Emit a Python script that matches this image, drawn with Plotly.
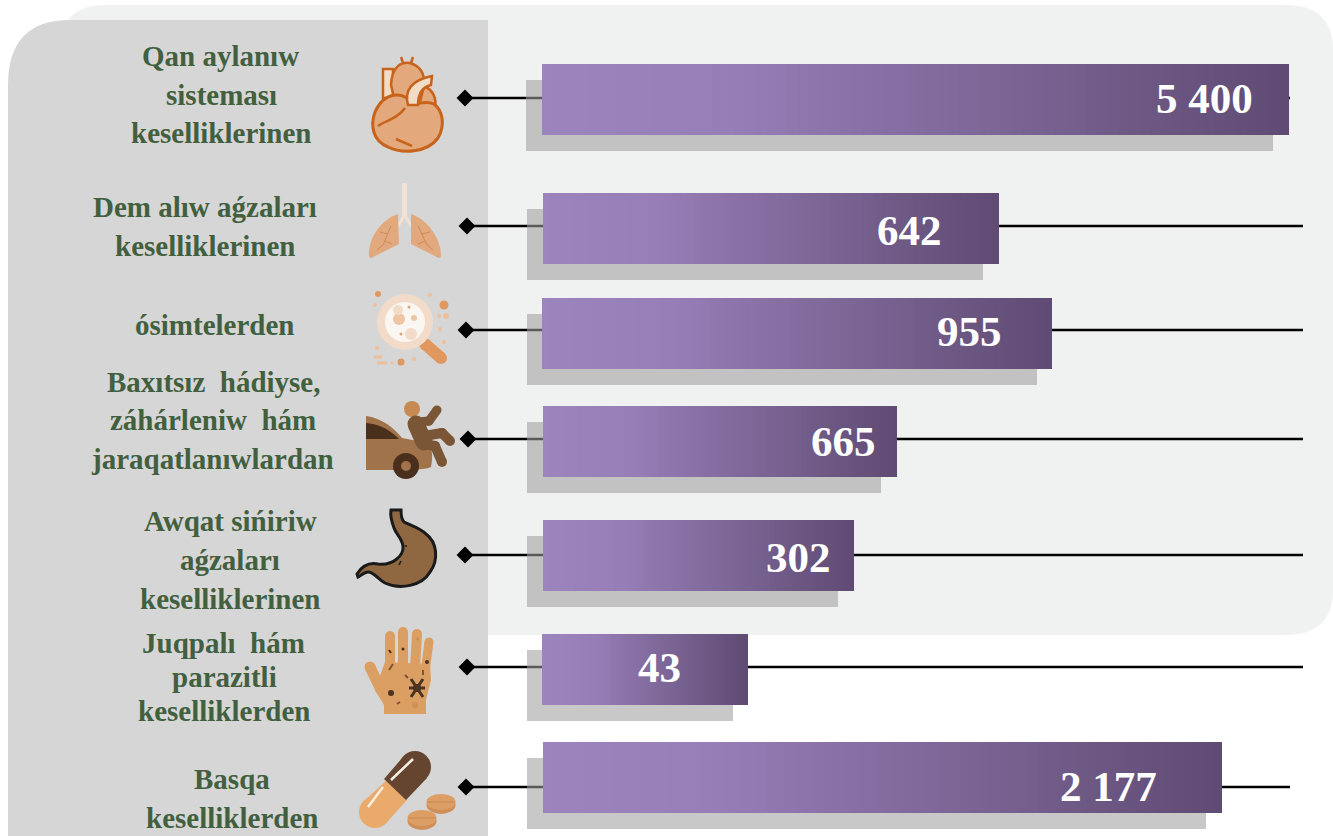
import plotly.graph_objects as go

# ---------- data ----------
categories = ["Qan aylanıw sisteması keselliklerinen", "Dem alıw aǵzaları keselliklerinen", "ósimtelerden",
              "Baxıtsız hádiyse, záhárleniw hám jaraqatlanıwlardan", "Awqat sińiriw aǵzaları keselliklerinen",
              "Juqpalı hám parazitli keselliklerden", "Basqa keselliklerden"]
value_labels = ["5 400", "642", "955", "665", "302", "43", "2 177"]
bar_lengths = [747, 456, 510, 354, 311, 206, 679]   # drawn lengths

# ---------- layout of the infographic ----------
W, H = 1333, 836
bar_starts = [542, 543, 542, 543, 543, 542, 543]
bar_centers = [99.5, 228, 333.5, 441.5, 555.5, 669.5, 777.5]
bar_height = 71
shadow_starts = [526, 527, 527, 527, 527, 527, 527]
shadow_dy = 16
line_y = [98, 226, 330, 439, 555, 667, 787]
diamond_x = [465, 467, 466, 468, 465, 467, 466]
line_end = [1290, 1303, 1303, 1303, 1303, 1303, 1290]
value_x = [1204, 909, 969, 843, 798, 659, 1108]
value_y = [98, 230, 331, 441, 557, 667, 786]
label_lines = [
    ("Qan aylanıw", 220, 56), ("sisteması", 221, 95), ("keselliklerinen", 221, 133),
    ("Dem alıw aǵzaları", 205, 207), ("keselliklerinen", 205, 246),
    ("ósimtelerden", 214, 325),
    ("Baxıtsız\u00a0 hádiyse,", 214, 382), ("záhárleniw\u00a0 hám", 213, 420), ("jaraqatlanıwlardan", 212, 459),
    ("Awqat sińiriw", 230, 521), ("aǵzaları", 230, 560), ("keselliklerinen", 230, 599),
    ("Juqpalı\u00a0 hám", 223, 643), ("parazitli", 224, 677), ("keselliklerden", 224, 711),
    ("Basqa", 232, 779), ("keselliklerden", 232, 818),
]

STOPS = [(0.0, (156, 132, 189)), (0.25, (151, 126, 183)), (1.0, (94, 75, 114))]


def grad(t):
    for (a, ca), (b, cb) in zip(STOPS, STOPS[1:]):
        if t <= b:
            f = (t - a) / (b - a)
            return "rgb(%d,%d,%d)" % tuple(round(x + (y - x) * f) for x, y in zip(ca, cb))
    return "rgb(94,75,114)"


shapes = []


def add_path(d, fill=None, line=None, lw=0):
    shapes.append(dict(type="path", path=d, fillcolor=fill or "rgba(0,0,0,0)", layer="above",
                       line=dict(color=line or "rgba(0,0,0,0)", width=lw)))


def poly(pts, fill=None, line=None, lw=0, close=True):
    d = "M " + " L ".join(f"{x},{y}" for x, y in pts) + (" Z" if close else "")
    add_path(d, fill, line, lw)


def circ(cx, cy, rx, fill, ry=None, line=None, lw=0):
    ry = rx if ry is None else ry
    shapes.append(dict(type="circle", x0=cx - rx, x1=cx + rx, y0=cy - ry, y1=cy + ry, fillcolor=fill, layer="above",
                       line=dict(color=line or "rgba(0,0,0,0)", width=lw)))


def seg(x1, y1, x2, y2, color, w):
    shapes.append(dict(type="line", x0=x1, x1=x2, y0=y1, y1=y2, layer="above", line=dict(color=color, width=w)))


def capsule(x1, y1, x2, y2, w, color):
    seg(x1, y1, x2, y2, color, w)
    circ(x1, y1, w / 2, color)
    circ(x2, y2, w / 2, color)


# panels (below the traces)
shapes.append(dict(type="path", layer="below", fillcolor="#f0f2f1", line=dict(width=0),
                   path="M 60,50 Q 60,5 105,5 L 1285,5 Q 1333,5 1333,50 L 1333,590 Q 1333,635 1285,635 L 60,635 Z"))
shapes.append(dict(type="path", layer="below", fillcolor="#d6d6d6", line=dict(width=0),
                   path="M 8,85 Q 8,20 70,20 L 488,20 L 488,836 L 8,836 Z"))
# leader lines
for i in range(len(line_y)):
    shapes.append(dict(type="line", layer="below", x0=diamond_x[i], x1=line_end[i], y0=line_y[i], y1=line_y[i],
                       line=dict(color="#000000", width=2.5)))

# --- heart ---
H_LINE = "#c8631c"
poly([(383, 69), (393, 69), (393, 98), (383, 98)], "#f3dcc6", H_LINE, 2.5)
add_path("M 391,85 C 392,65 402,62 410,63 C 420,66 424,72 424,82 L 412,102 L 395,102 Z", "#e3a87b", H_LINE, 2.5)
seg(403, 63, 401, 57, H_LINE, 2.5); seg(411, 63, 413, 57, H_LINE, 2.5)
add_path("M 424,86 C 433,90 437,98 435,110 L 418,110 Z", "#e3a87b", H_LINE, 2.5)
add_path("M 375,112 C 370,126 373,141 388,147 C 402,154 427,153 438,138 C 446,124 442,110 434,104 "
         "C 426,100 420,104 414,104 C 402,90 384,92 375,112 Z", "#e3a87b", H_LINE, 3)
add_path("M 408,105 C 404,90 412,80 432,76 L 431,85 C 422,87 418,93 418,105 Z", "#f3dcc6", H_LINE, 2.5)
add_path("M 378,126 C 386,120 396,120 405,108", None, H_LINE, 2.5)
seg(396, 139, 412, 146, H_LINE, 2.5)

# --- lungs ---
L_FILL, L_VEIN = "#e2a97f", "#d28a55"
seg(404.5, 183, 404.5, 218, "#f3e2d3", 5)
seg(404, 216, 398, 226, "#f3e2d3", 3); seg(405, 216, 411, 226, "#f3e2d3", 3)
add_path("M 398,214 C 384,218 368,236 369,256 C 370,259 372,258 375,256 L 399,244 Z", L_FILL)
add_path("M 411,214 C 425,218 441,236 441,256 C 440,259 438,258 435,256 L 411,244 Z", L_FILL)
for a in [(391, 226, 383, 245), (388, 234, 380, 232), (385, 241, 392, 244), (383, 245, 377, 250)]:
    seg(*a, L_VEIN, 1)
for a in [(418, 226, 427, 245), (421, 234, 430, 232), (425, 241, 418, 244), (427, 245, 433, 250)]:
    seg(*a, L_VEIN, 1)

# --- magnifier with cells ---
capsule(425, 344, 441, 358, 12, "#e0985f")
circ(405, 322, 28, "#f2dcc9")
circ(405, 322, 20, "#faf6f1")
circ(399, 319, 6, "#ecc6a5"); circ(398, 310, 5, "#f2dcc9"); circ(411, 334, 6, "#f2dcc9"); circ(414, 318, 3, "#ecc6a5")
circ(401, 334, 1.5, "#dca57a"); circ(409, 307, 1.5, "#dca57a")
for x, y, r, c in [(378, 294, 3, "#e0985f"), (375, 305, 2, "#edc09b"), (430, 295, 2, "#edc09b"),
                   (444, 305, 4.5, "#e0985f"), (439, 316, 2, "#edc09b"), (446, 316, 3, "#edc09b"), (440, 329, 2, "#edc09b"),
                   (444, 342, 2, "#edc09b"), (377, 348, 2, "#edc09b"), (401, 362, 3.5, "#e0985f"),
                   (392, 363, 1.5, "#edc09b"), (414, 359, 2, "#edc09b")]:
    circ(x, y, r, c)
capsule(375, 357, 381, 357, 3, "#edc09b"); capsule(378, 363, 386, 363, 3, "#edc09b")

# --- car accident ---
add_path("M 366,416 C 382,418 394,428 402,438 L 428,443 C 434,450 432,462 431,467 C 425,470 410,470 366,470 Z", "#a0734a")
add_path("M 366,423 C 382,424 392,432 399,439 L 366,439 Z", "#4a2f1c")
circ(406, 466, 13, "#4a2f1c"); circ(406, 466, 5, "#a0734a")
circ(412, 409, 8, "#c68a52")
C = "#7a5636"
capsule(416, 424, 424, 442, 17, C)
capsule(418, 422, 429, 421, 9, C); capsule(429, 421, 437, 410, 9, C)
capsule(424, 436, 442, 433, 10, C); capsule(442, 433, 450, 441, 10, C)
capsule(424, 444, 435, 446, 10, C); capsule(435, 446, 442, 462, 10, C)

# --- stomach ---
add_path("M 401,510 C 401,516 402,520 404,522 C 412,526 420,528 426,534 C 437,542 439,560 430,572 "
         "C 422,586 400,590 385,583 C 378,579 374,572 368,572 C 364,572 361,576 358,577 L 357,574 "
         "C 362,566 368,562 378,564 C 392,566 404,556 403,546 C 402,538 396,534 394,528 C 391,520 390,516 391,510 Z",
         "#8f6842", "#1a1a1a", 3)
seg(401, 561, 399, 565, "#1a1a1a", 1.5); circ(406, 546, 1, "#1a1a1a")

# --- hand ---
HF = "#dc9f63"; HD = "#4a3320"
capsule(390, 636, 390, 668, 10, HF)
capsule(403, 632, 403, 666, 10, HF)
capsule(417, 634, 415, 668, 10, HF)
capsule(429, 642, 425, 672, 9, HF)
capsule(370, 667, 381, 690, 11, HF)
poly([(385, 662), (430, 664), (431, 680), (426, 700), (426, 714), (384, 714), (384, 705), (375, 690)], HF)
circ(391, 693, 3, HD); circ(403, 649, 1.5, HD); circ(427, 662, 2, HD); circ(415, 705, 3, "#cf9058")
seg(389, 650, 391, 653, HD, 2); seg(389, 670, 393, 664, "#7a5636", 2); seg(397, 704, 400, 702, "#7a5636", 2)
seg(417, 640, 418, 638, "#bb8a55", 2); seg(423, 670, 423, 675, "#7a5636", 2); seg(405, 675, 408, 678, "#7a5636", 2)
seg(411, 679, 423, 697, HD, 3); seg(423, 679, 411, 697, HD, 3); seg(409, 688, 425, 688, HD, 3); circ(417, 688, 4, HD)

# --- pill ---
PO = "#eaaa6c"; PB = "#654530"
poly([(363, 802), (387, 780), (407, 800), (387, 822)], PO)
circ(375, 812, 16, PO)
poly([(384, 779), (403, 757), (427, 778), (406, 800)], PB)
circ(415, 767, 16, PB)
seg(368, 807, 383, 787, "#fbeede", 2.5)
seg(391, 780, 413, 759, "#f6efe8", 2.5)
for cx, cy in [(441, 802), (422, 818)]:
    circ(cx, cy + 3, 14.5, "#cf8f58", 9)
    circ(cx, cy, 14.5, "#dd9e66", 8)
    seg(cx - 14, cy, cx + 14, cy, "#c98a52", 1)

# ---------- traces ----------
fig = go.Figure()
fig.add_trace(go.Bar(y=[c + shadow_dy for c in bar_centers], x=bar_lengths,
                     base=shadow_starts, orientation="h", width=bar_height,
                     marker=dict(color="rgba(158,158,158,0.57)", line_width=0), hoverinfo="skip", showlegend=False))
N = 70
for k in range(N, 0, -1):
    fig.add_trace(go.Bar(y=bar_centers, x=[L * k / N for L in bar_lengths], base=bar_starts, orientation="h",
                         width=bar_height, marker=dict(color=grad((k - 0.5) / N), line_width=0),
                         hoverinfo="skip", showlegend=False))
fig.add_trace(go.Scatter(x=diamond_x, y=line_y, mode="markers", marker=dict(symbol="diamond", size=13, color="#000000"),
                         hoverinfo="skip", showlegend=False))

annotations = []
for t, x, y in label_lines:
    annotations.append(dict(x=x, y=y, text=f"<b>{t}</b>", showarrow=False, xanchor="center", yanchor="middle",
                            font=dict(family="Liberation Serif", size=29, color="#42603f")))
for t, x, y in zip(value_labels, value_x, value_y):
    annotations.append(dict(x=x, y=y, text=f"<b>{t}</b>", showarrow=False, xanchor="center", yanchor="middle",
                            font=dict(family="Liberation Serif", size=43, color="#ffffff")))

fig.update_layout(width=W, height=H, margin=dict(l=0, r=0, t=0, b=0), barmode="overlay", bargap=0,
                  paper_bgcolor="#ffffff", plot_bgcolor="#ffffff", shapes=shapes, annotations=annotations,
                  xaxis=dict(range=[0, W], visible=False, fixedrange=True),
                  yaxis=dict(range=[H, 0], visible=False, fixedrange=True), showlegend=False)
fig.write_html("out.html", config=dict(displayModeBar=False),
               post_script="document.body.style.margin='0';")
